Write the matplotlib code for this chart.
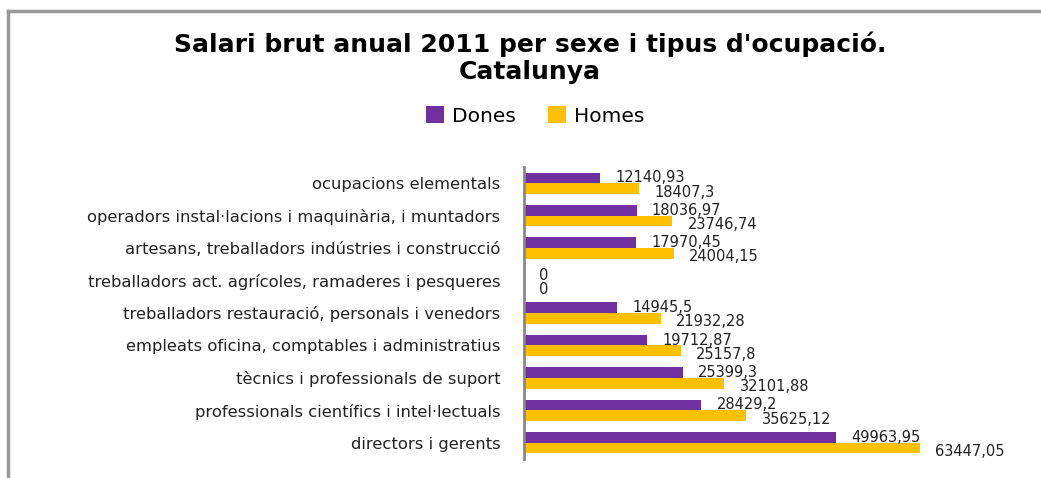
import numpy as np
import matplotlib.pyplot as plt
from matplotlib.lines import Line2D

categories = [
    'directors i gerents',
    'professionals científics i intel·lectuals',
    'tècnics i professionals de suport',
    'empleats oficina, comptables i administratius',
    'treballadors restauració, personals i venedors',
    'treballadors act. agrícoles, ramaderes i pesqueres',
    'artesans, treballadors indústries i construcció',
    'operadors instal·lacions i maquinària, i muntadors',
    'ocupacions elementals',
]
dones = [49963.95, 28429.2, 25399.3, 19712.87, 14945.5, 0, 17970.45, 18036.97, 12140.93]
homes = [63447.05, 35625.12, 32101.88, 25157.8, 21932.28, 0, 24004.15, 23746.74, 18407.3]

c_dones = '#7030A0'
c_homes = '#FFC000'

W, H = 1041, 478
fig = plt.figure(figsize=(W / 100, H / 100), dpi=100)

# frame of the chart area (left and top edges visible)
fig.add_artist(Line2D([7.5 / W, 7.5 / W], [0, 1 - 10.5 / H], color='#999999', lw=2.5))
fig.add_artist(Line2D([7.5 / W, 1], [1 - 10.5 / H, 1 - 10.5 / H], color='#999999', lw=2.5))

# plot area in pixels
x0, x1 = 524, 961
y_top, y_bot = 167, 459
ax = fig.add_axes([x0 / W, 1 - y_bot / H, (x1 - x0) / W, (y_bot - y_top) / H])

y = np.arange(len(categories))
h = 0.33
ax.barh(y + h / 2, dones, height=h, color=c_dones, label='Dones')
ax.barh(y - h / 2, homes, height=h, color=c_homes, label='Homes')

def fmt(v):
    s = f'{v:.2f}'.rstrip('0').rstrip('.')
    return s.replace('.', ',')

for yi, v in zip(y, dones):
    ax.annotate(fmt(v), (v, yi + h / 2), xytext=(11, 0), textcoords='offset points',
                va='center', ha='left', fontsize=10.5, color='#222222', annotation_clip=False)
for yi, v in zip(y, homes):
    ax.annotate(fmt(v), (v, yi - h / 2), xytext=(11, -2.5), textcoords='offset points',
                va='center', ha='left', fontsize=10.5, color='#222222', annotation_clip=False)

ax.set_xlim(0, 70000)
ax.set_ylim(-0.5, len(categories) - 0.5)
ax.set_yticks(y)
ax.set_yticklabels(categories, fontsize=11.8, color='#222222')
ax.tick_params(axis='y', length=0, pad=17)
ax.set_xticks([])
for s in ['top', 'right', 'bottom']:
    ax.spines[s].set_visible(False)
ax.spines['left'].set_color('#888888')
ax.spines['left'].set_linewidth(2)

fig.text(530 / W, 1 - 44 / H, "Salari brut anual 2011 per sexe i tipus d'ocupació.",
         ha='center', va='center', fontsize=18, fontweight='bold')
fig.text(530 / W, 1 - 72 / H, 'Catalunya', ha='center', va='center',
         fontsize=18, fontweight='bold')

fig.legend(handles=ax.get_legend_handles_labels()[0], labels=['Dones', 'Homes'],
           loc='center', bbox_to_anchor=(535 / W, 1 - 116 / H), ncol=2, frameon=False,
           fontsize=14.5, handlelength=0.9, handleheight=0.9, handletextpad=0.4,
           columnspacing=1.6)

fig.savefig('out.png', dpi=100)
